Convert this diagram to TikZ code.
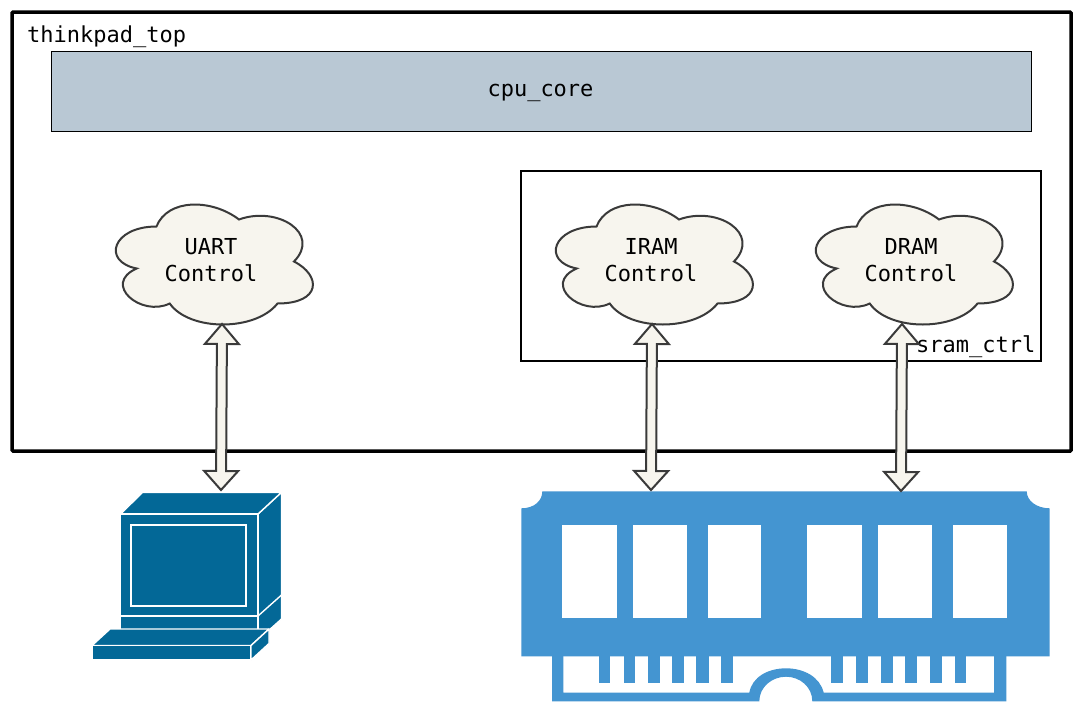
\documentclass[tikz,border=0pt]{standalone}
\usepackage{fontspec}
\setmainfont{DejaVu Sans Mono}
\usetikzlibrary{calc}
\definecolor{cpufill}{HTML}{B9C8D4}
\definecolor{cloudfill}{HTML}{F7F5EE}
\definecolor{inkgrey}{HTML}{3A3A3A}
\definecolor{pcblue}{HTML}{036897}
\definecolor{ramblue}{HTML}{4495D1}
\tikzset{
  x=1pt,y=-1pt,
  frame/.style={draw=black,inner sep=0pt,outer sep=0pt,anchor=north west},
  label/.style={inner sep=0pt,font=\fontsize{22}{27}\selectfont,text=black,align=center},
  cloudline/.style={draw=inkgrey,fill=cloudfill,line width=2pt},
  blockarrow/.style={draw=inkgrey,fill=cloudfill,line width=2pt,line join=miter},
  pcpart/.style={fill=pcblue,draw=white,line width=1.4pt,line join=round},
  ram/.style={fill=ramblue,draw=none},
  ramwin/.style={fill=white,draw=none},
  pics/cloudshape/.style={code={
    \path[cloudline] (55,35)
      .. controls (11,35) and (0,70) .. (35.2,77)
      .. controls (0,92.4) and (39.6,126) .. (68.2,112)
      .. controls (88,140) and (154,140) .. (176,112)
      .. controls (220,112) and (220,84) .. (192.5,70)
      .. controls (220,42) and (176,14) .. (137.5,28)
      .. controls (110,7) and (66,7) .. (55,35) -- cycle;
  }}
}
\newcommand{\blockarrowpath}[2]{%
  \path[blockarrow] (#1)
    -- ($(#1)!20pt!(#2)!17pt!90:(#2)$)
    -- ($(#1)!20pt!(#2)!5pt!90:(#2)$)
    -- ($(#2)!19pt!(#1)!5pt!-90:(#1)$)
    -- ($(#2)!19pt!(#1)!17pt!-90:(#1)$)
    -- (#2)
    -- ($(#2)!19pt!(#1)!17pt!90:(#1)$)
    -- ($(#2)!19pt!(#1)!5pt!90:(#1)$)
    -- ($(#1)!20pt!(#2)!5pt!-90:(#2)$)
    -- ($(#1)!20pt!(#2)!17pt!-90:(#2)$)
    -- cycle;}
\begin{document}
\begin{tikzpicture}
\useasboundingbox (0,0) rectangle (1083,712);
\fill[white] (0,0) rectangle (1083,712);

% frames
\draw[black,line width=3.5pt,rounded corners=1pt] (12,12) rectangle (1071,451);
\node[label,anchor=base west] (toplabel) at (27,42) {thinkpad\_top};
\node[frame,fill=cpufill,minimum width=980pt,minimum height=79.5pt,line width=1pt] (cpu) at (51.5,51.5) {};
\node[label] (cpulabel) at (540.5,92.5) {cpu\_core};
\node[frame,minimum width=520pt,minimum height=189.5pt,line width=2pt] (sram) at (521,171) {};
\node[label,anchor=base east] (sramlabel) at (1035.5,352) {sram\_ctrl};

% clouds
\pic at (101.5,191.5) {cloudshape};
\pic at (541.5,191.5) {cloudshape};
\pic at (801.5,191.5) {cloudshape};
\node[label] (uart) at (211,260.5) {UART\\Control};
\node[label] (iram) at (651,260.5) {IRAM\\Control};
\node[label] (dram) at (911,260.5) {DRAM\\Control};

% block arrows
\coordinate (uarttip) at (222,324);
\coordinate (pctip) at (221,490);
\coordinate (iramtip) at (652,324);
\coordinate (ramtipa) at (651,490);
\coordinate (dramtip) at (902,324);
\coordinate (ramtipb) at (901,491);

% computer
\path[pcpart] (258,514) -- (281.5,492.3) -- (281.5,619) -- (258,640) -- cycle;
\path[pcpart] (258,616) -- (281.5,595);
\path[pcpart] (120.5,514) -- (142.7,492.3) -- (281.5,492.3) -- (258,514) -- cycle;
\path[pcpart] (120.5,514) rectangle (258,616);
\path[pcpart] (120.5,616) rectangle (258,630);
\draw[white,line width=1.6pt] (131,525) rectangle (246,605.7);
\path[pcpart] (92,645.5) -- (110,629) -- (269,629) -- (251,645.5) -- cycle;
\path[pcpart] (92,645.5) rectangle (251,660);
\path[pcpart] (251,645.5) -- (269,629) -- (269,643.5) -- (251,660) -- cycle;

% memory module
\path[ram] (542.3,491.3) -- (1026.7,491.3)
  .. controls (1026.7,501) and (1037,508.3) .. (1049.7,508.3)
  -- (1049.7,656.3) -- (521.3,656.3) -- (521.3,508.3)
  .. controls (534,508.3) and (542.3,501) .. (542.3,491.3) -- cycle;
\path[ram] (552,656) -- (552,701.3) -- (759.3,701.3)
  .. controls (759.3,687) and (772,676.7) .. (786,676.7)
  .. controls (800,676.7) and (812.3,687) .. (812.3,701.3)
  -- (1006.3,701.3) -- (1006.3,656) -- (994,656) -- (994,692.7) -- (823.7,692.7)
  .. controls (820,677) and (804,668.3) .. (786,668.3)
  .. controls (768,668.3) and (752,677) .. (749.3,692.7)
  -- (563.3,692.7) -- (563.3,656) -- cycle;
\foreach \a/\b in {598.7/610.3,623.7/635.3,648.3/660.3,671.7/683.7,696.3/708.7,721.3/733.3,831/843,856.3/868.3,881.3/893,904.7/916.7,929.7/941.7,954.7/966}
  \path[ram] (\a,656) rectangle (\b,683);
\foreach \a/\b in {562/617,633/686.7,708/761.3,806.7/861.7,878/931.7,952.7/1006.7}
  \path[ramwin] (\a,525) rectangle (\b,617.7);

\blockarrowpath{uarttip}{pctip}
\blockarrowpath{iramtip}{ramtipa}
\blockarrowpath{dramtip}{ramtipb}
\end{tikzpicture}
\end{document}
